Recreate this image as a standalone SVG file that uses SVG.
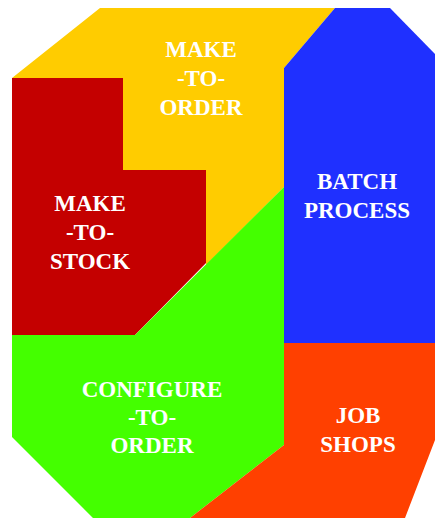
<svg xmlns="http://www.w3.org/2000/svg" width="435" height="518" viewBox="0 0 435 518">
<style>
.lbl{font-family:"Liberation Serif","Times New Roman",serif;font-weight:bold;font-size:23px;fill:#FFFFFF;text-anchor:middle}
</style>
<rect width="435" height="518" fill="#FFFFFF"/>
<g id="make-to-order">
<polygon points="100,8 335,8 284,68 284,187 206,265 206,170 123,170 123,78 12,78" fill="#FFCC00"/>
<text class="lbl" x="201" y="57">MAKE</text>
<text class="lbl" x="201" y="86">-TO-</text>
<text class="lbl" x="201" y="115">ORDER</text>
</g>
<g id="batch-process">
<polygon points="335,8 390,8 435,54 435,343 284,343 284,68" fill="#1F30FF"/>
<text class="lbl" x="357" y="189">BATCH</text>
<text class="lbl" x="357" y="218">PROCESS</text>
</g>
<g id="make-to-stock">
<polygon points="12,78 123,78 123,170 206,170 206,263 135,335 12,335" fill="#C40000"/>
<text class="lbl" x="90" y="211">MAKE</text>
<text class="lbl" x="90" y="240">-TO-</text>
<text class="lbl" x="90" y="269">STOCK</text>
</g>
<g id="configure-to-order">
<polygon points="284,187 284,445 190,518 93,518 12,437 12,335 135,335" fill="#44FF00"/>
<text class="lbl" x="152" y="397">CONFIGURE</text>
<text class="lbl" x="152" y="425">-TO-</text>
<text class="lbl" x="152" y="453">ORDER</text>
</g>
<g id="job-shops">
<polygon points="284,343 435,343 435,440 405,518 190,518 284,445" fill="#FF4000"/>
<text class="lbl" x="358" y="423">JOB</text>
<text class="lbl" x="358" y="452">SHOPS</text>
</g>
<g id="connectors"/>
</svg>
